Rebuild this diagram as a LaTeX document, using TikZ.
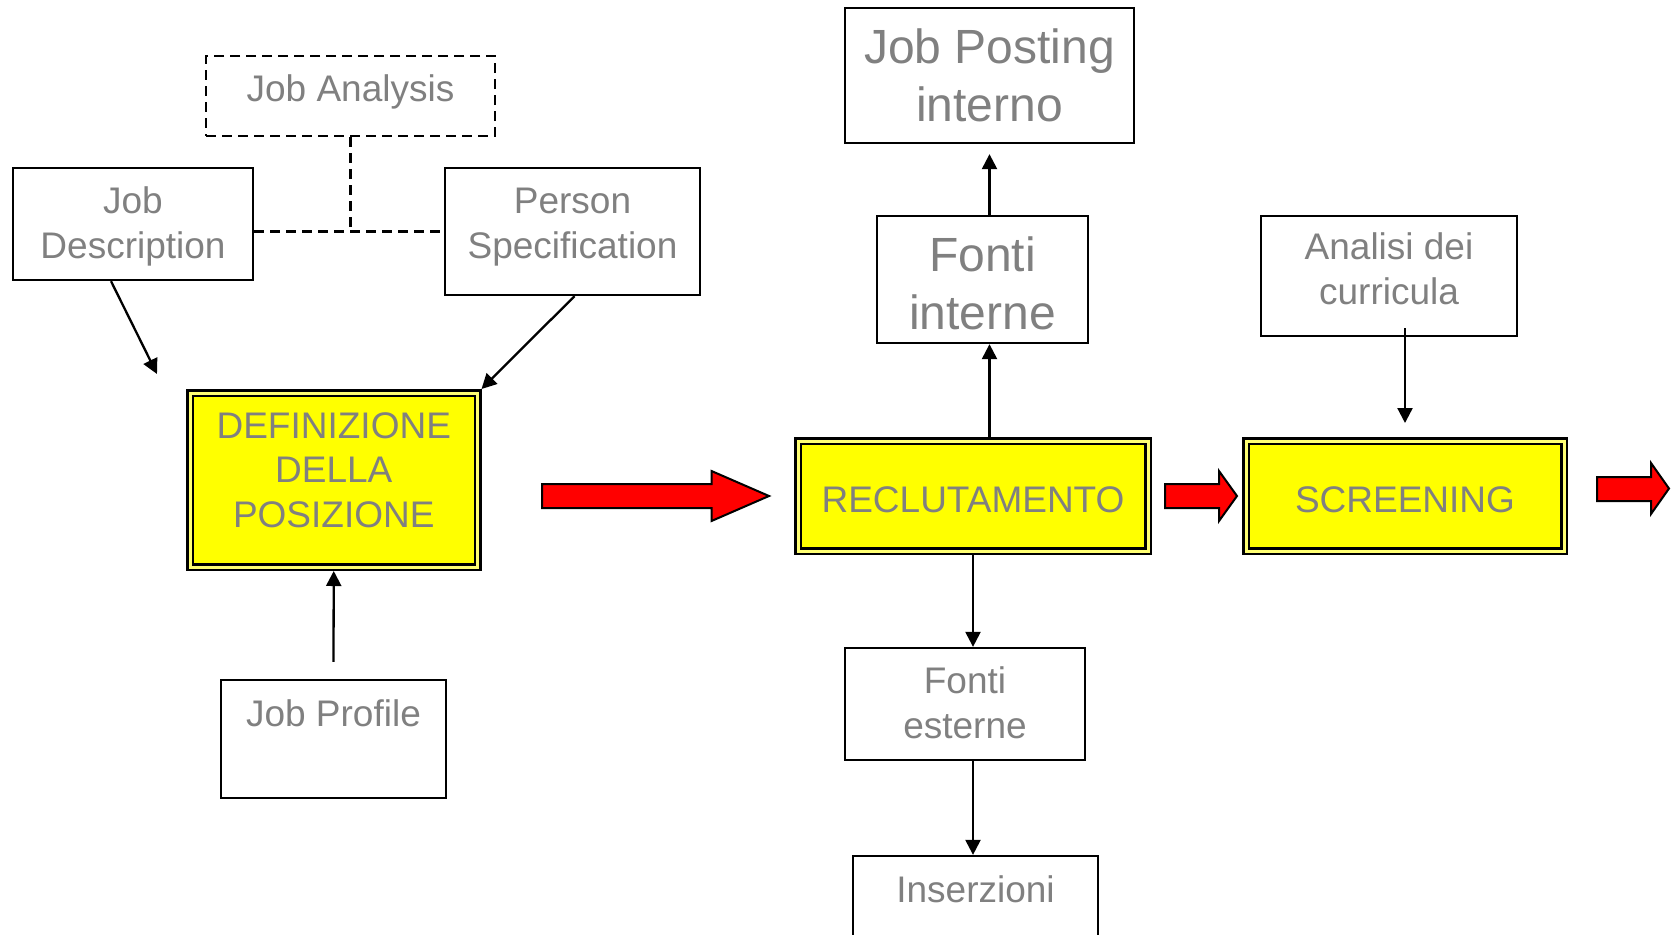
\documentclass[tikz,border=0pt]{standalone}
\usepackage{fontspec}
\setmainfont{Liberation Sans}
\usetikzlibrary{arrows.meta,calc}
\definecolor{txtgray}{RGB}{128,128,128}
\definecolor{stagefill}{RGB}{255,255,0}
\definecolor{blockred}{RGB}{255,0,0}

\begin{document}
\begin{tikzpicture}[x=1pt,y=-1pt,
  box/.style={draw=black, line width=2.3pt, fill=white, inner sep=0pt},
  dbox/.style={box, dash pattern=on 10pt off 6pt},
  stage/.style={draw=black, line width=2.5pt, double=stagefill!55!white,
    double distance=3pt, fill=stagefill, inner sep=0pt, outer sep=4pt},
  % labels are placed by the baseline of their last line
  lbl/.style={text=txtgray, align=center, inner sep=0pt, anchor=base,
    font=\fontsize{37}{44.5}\selectfont},
  biglbl/.style={lbl, font=\fontsize{48}{58}\selectfont},
  conn/.style={line width=2.3pt, -{Triangle[length=15pt,width=15pt]}},
  dconn/.style={line width=2.3pt, dash pattern=on 10pt off 6pt},
  blockarrow/.style={fill=blockred, draw=black, line width=2pt, line join=miter},
]
\useasboundingbox (0,0) rectangle (1677,934);
\clip (0,0) rectangle (1677,934);
\fill[white] (0,0) rectangle (1677,934);

% --- definizione della posizione -------------------------------------
\node[dbox, minimum width=289pt, minimum height=80pt]  (ja)  at (350.5,96)  {};
\node[box,  minimum width=240pt, minimum height=112pt] (jd)  at (133,224)   {};
\node[box,  minimum width=255pt, minimum height=127pt] (ps)  at (572.5,231.5) {};
\node[stage, minimum width=287.5pt, minimum height=174pt] (def) at (333.75,480) {};
\node[box,  minimum width=225pt, minimum height=118pt] (jp)  at (333.5,739) {};

\node[lbl] (ja-t)  at (350.5,101.7) {Job Analysis};
\node[lbl] (jd-t)  at (133,258)     {Job\\Description};
\node[lbl] (ps-t)  at (572.5,258)   {Person\\Specification};
\node[lbl] (def-t) at (333.75,527)  {DEFINIZIONE\\DELLA\\POSIZIONE};
\node[lbl] (jp-t)  at (333.5,726)   {Job Profile};

% --- reclutamento ----------------------------------------------------
\node[box,  minimum width=289pt, minimum height=135pt] (jpo) at (989.5,75.5) {};
\node[box,  minimum width=211pt, minimum height=127pt] (fi)  at (982.5,279.5) {};
\node[stage, minimum width=350pt, minimum height=110pt] (rec) at (973,496) {};
\node[box,  minimum width=240pt, minimum height=112pt] (fe)  at (965,704) {};
\node[box,  minimum width=245pt, minimum height=134pt] (ins) at (975.5,923) {};

\node[biglbl] (jpo-t) at (989.5,121) {Job Posting\\interno};
\node[biglbl] (fi-t)  at (982.5,329) {Fonti\\interne};
\node[lbl] (rec-t) at (973,512)  {RECLUTAMENTO};
\node[lbl] (fe-t)  at (965,738)  {Fonti\\esterne};
\node[lbl] (ins-t) at (975.5,902) {Inserzioni};

% --- screening -------------------------------------------------------
\node[box,  minimum width=256pt, minimum height=120pt] (an)  at (1389,276) {};
\node[stage, minimum width=318pt, minimum height=110pt] (scr) at (1405,496) {};

\node[lbl] (an-t)  at (1389,304) {Analisi dei\\curricula};
\node[lbl] (scr-t) at (1405,512) {SCREENING};

% --- connectors ------------------------------------------------------
\draw[dconn] (ja.south) -- (ja.south |- ps.west);
\draw[dconn] (jd.east |- ps.west) -- (ps.west);

\coordinate (def-in) at (157,374);
\draw[conn] ([xshift=-22pt]jd.south) -- (def-in);
\draw[conn] ([xshift=2pt]ps.south) -- (def.north east);
\draw[conn] ([yshift=17pt]jp.north) -- (def.south);

\draw[conn] (rec.north -| jpo.south) -- (fi.south -| jpo.south);
\draw[conn] (fi.north -| jpo.south) -- ([yshift=-10pt]jpo.south);
\draw[conn] (rec.south) -- (fe.north -| rec.south);
\draw[conn] (fe.south -| rec.south) -- (ins.north -| rec.south);
\draw[conn] ([yshift=9pt]an.south -| scr.north) -- ([yshift=14pt]scr.north);

% --- block arrows between the stages ---------------------------------
\draw[blockarrow] (542,484) -- (711.5,484) -- (711.5,471) -- (769,496)
  -- (711.5,521) -- (711.5,508) -- (542,508) -- cycle;
\draw[blockarrow] (1165,484) -- (1219,484) -- (1219,471) -- (1237,496)
  -- (1219,521) -- (1219,508) -- (1165,508) -- cycle;
\draw[blockarrow] (1597,477) -- (1651,477) -- (1651,463) -- (1669,488.5)
  -- (1651,514) -- (1651,501) -- (1597,501) -- cycle;
\end{tikzpicture}
\end{document}
